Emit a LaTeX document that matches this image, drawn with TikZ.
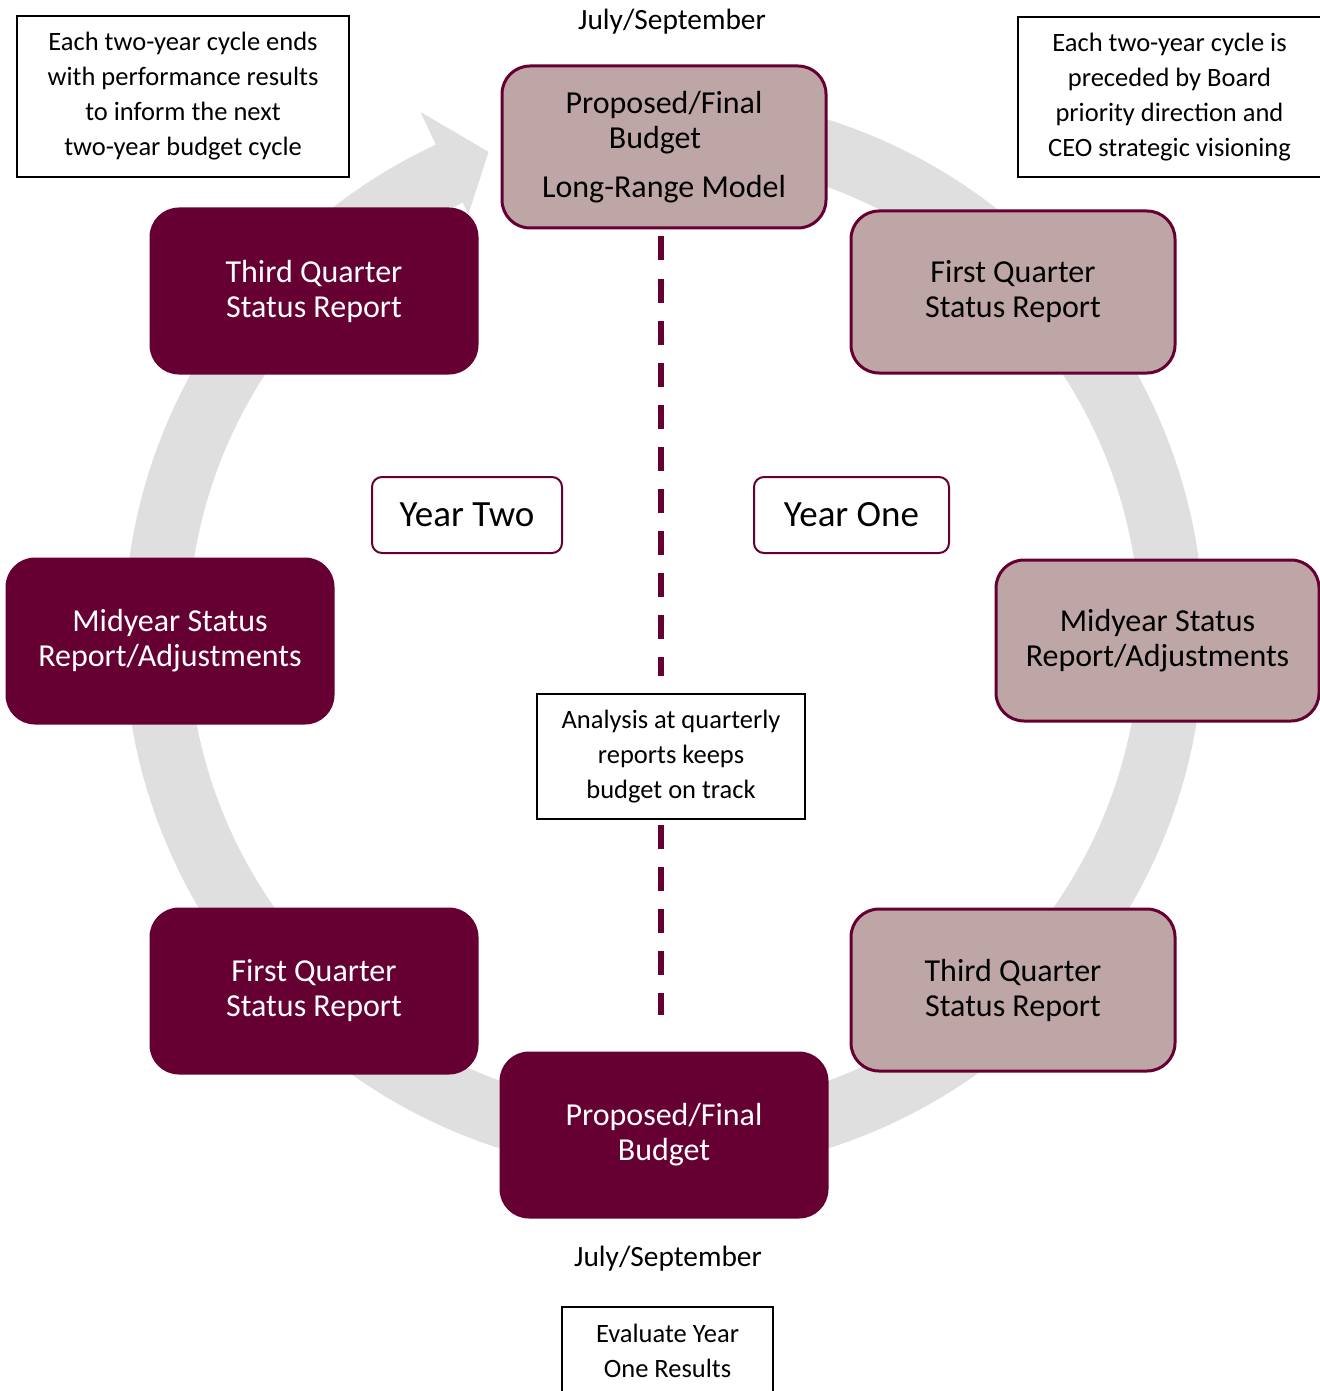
\documentclass[tikz,border=0pt]{standalone}
\usepackage{fontspec}
\setmainfont{Carlito}
\usetikzlibrary{calc}
\definecolor{maroon}{RGB}{102,0,51}
\definecolor{mauve}{RGB}{191,166,166}
\definecolor{ringgray}{RGB}{223,223,223}
\begin{document}
\begin{tikzpicture}[x=0.5pt,y=-0.5pt,
  bigbox/.style={rounded corners=14pt, align=center, inner sep=0pt,
    font=\fontsize{16pt}{17.5pt}\selectfont, line width=1.5pt, draw=maroon},
  lightbox/.style={bigbox, fill=mauve, text=black},
  darkbox/.style={bigbox, fill=maroon, text=white},
  notebox/.style={draw=black, line width=0.75pt, fill=white, align=center, inner sep=0pt,
    font=\fontsize{13.25pt}{17.5pt}\selectfont},
  yearbox/.style={draw=maroon, line width=1pt, fill=white, rounded corners=5pt, inner sep=0pt,
    minimum height=38pt, font=\fontsize{18.5pt}{20pt}\selectfont},
  datelabel/.style={inner sep=0pt, font=\fontsize{14.7pt}{17pt}\selectfont},
  dashline/.style={draw=maroon, line width=3pt, dash pattern=on 12pt off 9pt}
]
\useasboundingbox (0,0) rectangle (1320,1391);

% grey cycle arrow
\fill[ringgray] plot[domain=-80:245, samples=220] ({664+540*cos(\x)},{634+540*sin(\x)})
  -- ({664+576*cos(115)},{634-576*sin(115)})
  -- ({664+513*cos(110)},{634-513*sin(110)})
  -- ({664+463*cos(115)},{634-463*sin(115)})
  -- plot[domain=-245:80, samples=220] ({664+476*cos(\x)},{634-476*sin(\x)}) -- cycle;

% stage boxes
\node[lightbox, minimum width=162pt, minimum height=81pt] (top) at (664,147)
  {Proposed/Final\\\hbox{Budget\kern9pt}\\[7pt]Long-Range Model};
\node[lightbox, minimum width=162pt, minimum height=81pt] (q1r) at (1013,292)
  {First Quarter\\Status Report};
\node[lightbox, minimum width=161.5pt, minimum height=80.5pt] (midr) at (1157.5,640.5)
  {Midyear Status\\Report/Adjustments};
\node[lightbox, minimum width=162pt, minimum height=81pt] (q3r) at (1013,990)
  {Third Quarter\\Status Report};
\node[darkbox, minimum width=163pt, minimum height=82pt] (bot) at (664,1135)
  {Proposed/Final\\Budget};
\node[darkbox, minimum width=163pt, minimum height=82pt] (q1l) at (314,991)
  {First Quarter\\Status Report};
\node[darkbox, minimum width=163pt, minimum height=82pt] (midl) at (170,641)
  {Midyear Status\\Report/Adjustments};
\node[darkbox, minimum width=163pt, minimum height=82pt] (q3l) at (314,291)
  {Third Quarter\\Status Report};

% year labels
\node[yearbox, minimum width=95pt] (ytwo) at (467,515) {Year Two};
\node[yearbox, minimum width=97.5pt] (yone) at (851.5,515) {Year One};

% notes
\node[notebox, minimum width=134pt, minimum height=62.5pt] (analysis) at (671,756.5)
  {Analysis at quarterly\\reports keeps\\budget on track};
\node[notebox, minimum width=166pt, minimum height=80.5pt] (noteL) at (183,96.5)
  {Each two-year cycle ends\\with performance results\\to inform the next\\two-year budget cycle};
\node[notebox, minimum width=151.5pt, minimum height=80pt] (noteR) at (1169.5,97)
  {Each two-year cycle is\\preceded by Board\\priority direction and\\CEO strategic visioning};
\node[notebox, minimum width=105.5pt, minimum height=44pt] (eval) at (667.5,1351)
  {Evaluate Year\\One Results};

% dates
\node[datelabel] (jtop) at (672,22) {July/September};
\node[datelabel] (jbot) at (668,1259) {July/September};

% dashed divider
\coordinate (dx) at (661,0);
\draw[dashline] ($(top.south -| dx)+(0,7)$) -- ($(analysis.north -| dx)+(0,-17)$);
\draw[dashline] ($(analysis.south -| dx)+(0,5)$) -- ($(bot.north -| dx)+(0,-37)$);
\end{tikzpicture}
\end{document}
